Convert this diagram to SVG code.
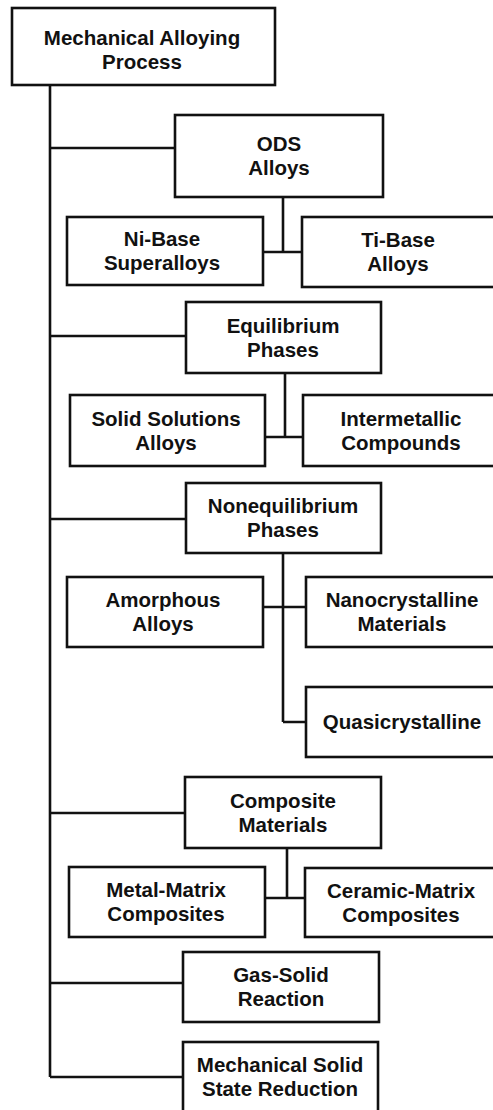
<svg xmlns="http://www.w3.org/2000/svg" width="493" height="1110" viewBox="0 0 493 1110">
<style>
.box{fill:#fff;stroke:#111;stroke-width:2.6}
.t{font-family:"Liberation Sans",Arial,sans-serif;font-weight:bold;font-size:20.5px;text-anchor:middle;fill:#111}
.c{fill:none;stroke:#111;stroke-width:2.6}
</style>
<rect width="493" height="1110" fill="#fff"/>
<g id="connectors" class="c">
<path d="M50 85V1077"/>
<path d="M50 148H175"/>
<path d="M50 336H186"/>
<path d="M50 519H186"/>
<path d="M50 813H185"/>
<path d="M50 983H183"/>
<path d="M50 1077H183"/>
<path d="M283 197V252M263 252H302"/>
<path d="M285 373V437M265 437H303"/>
<path d="M283 553V722M263 607H306M283 722H306"/>
<path d="M287 848V898M265 898H305"/>
</g>
<g id="n-root"><rect class="box" x="12" y="8" width="263" height="77"/><text class="t" x="142" y="45">Mechanical Alloying</text><text class="t" x="142" y="69">Process</text></g>
<g id="n-ods"><rect class="box" x="175" y="115" width="208" height="82"/><text class="t" x="279" y="151">ODS</text><text class="t" x="279" y="175">Alloys</text></g>
<g id="n-ni"><rect class="box" x="67" y="217" width="196" height="68"/><text class="t" x="162" y="246">Ni-Base</text><text class="t" x="162" y="270">Superalloys</text></g>
<g id="n-ti"><rect class="box" x="302" y="217" width="196" height="70"/><text class="t" x="398" y="247">Ti-Base</text><text class="t" x="398" y="271">Alloys</text></g>
<g id="n-eq"><rect class="box" x="186" y="302" width="195" height="71"/><text class="t" x="283" y="333">Equilibrium</text><text class="t" x="283" y="357">Phases</text></g>
<g id="n-ss"><rect class="box" x="70" y="395" width="195" height="71"/><text class="t" x="166" y="426">Solid Solutions</text><text class="t" x="166" y="450">Alloys</text></g>
<g id="n-im"><rect class="box" x="303" y="395" width="195" height="71"/><text class="t" x="401" y="426">Intermetallic</text><text class="t" x="401" y="450">Compounds</text></g>
<g id="n-neq"><rect class="box" x="186" y="483" width="195" height="70"/><text class="t" x="283" y="513">Nonequilibrium</text><text class="t" x="283" y="537">Phases</text></g>
<g id="n-am"><rect class="box" x="67" y="577" width="196" height="70"/><text class="t" x="163" y="607">Amorphous</text><text class="t" x="163" y="631">Alloys</text></g>
<g id="n-nano"><rect class="box" x="306" y="577" width="192" height="70"/><text class="t" x="402" y="607">Nanocrystalline</text><text class="t" x="402" y="631">Materials</text></g>
<g id="n-quasi"><rect class="box" x="306" y="687" width="192" height="70"/><text class="t" x="402" y="729">Quasicrystalline</text></g>
<g id="n-comp"><rect class="box" x="185" y="777" width="196" height="71"/><text class="t" x="283" y="808">Composite</text><text class="t" x="283" y="832">Materials</text></g>
<g id="n-mmc"><rect class="box" x="69" y="867" width="196" height="70"/><text class="t" x="166" y="897">Metal-Matrix</text><text class="t" x="166" y="921">Composites</text></g>
<g id="n-cmc"><rect class="box" x="305" y="868" width="193" height="69"/><text class="t" x="401" y="898">Ceramic-Matrix</text><text class="t" x="401" y="922">Composites</text></g>
<g id="n-gas"><rect class="box" x="183" y="952" width="196" height="70"/><text class="t" x="281" y="982">Gas-Solid</text><text class="t" x="281" y="1006">Reaction</text></g>
<g id="n-mssr"><rect class="box" x="183" y="1042" width="195" height="70"/><text class="t" x="280" y="1072">Mechanical Solid</text><text class="t" x="280" y="1096">State Reduction</text></g>
</svg>
